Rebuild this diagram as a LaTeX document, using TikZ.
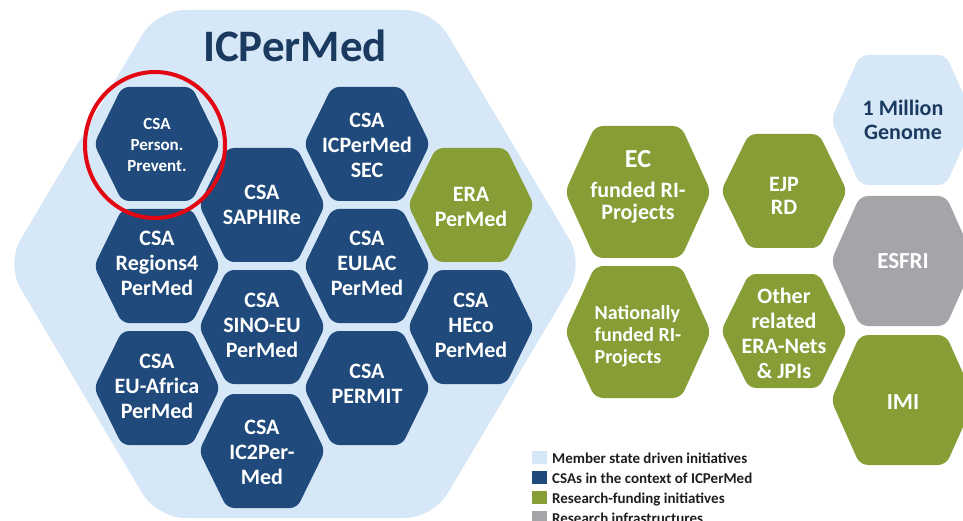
\documentclass[tikz,border=0pt]{standalone}
\usepackage{fontspec}
\setmainfont{Carlito}
\definecolor{lblue}{HTML}{D6E7F7}
\definecolor{navy}{HTML}{1F4A7B}
\definecolor{olive}{HTML}{879E37}
\definecolor{greyc}{HTML}{A3A5A8}
\definecolor{titlec}{HTML}{1A3A60}
\definecolor{redc}{HTML}{E30613}
\definecolor{legtext}{HTML}{1E1E1E}
% #1 fill options, #2 x, #3 y, #4 half width, #5 half top edge, #6 half height
\newcommand\hexfill[6]{%
  \fill[#1] ({#2-#4},#3) -- ({#2-#5},{#3-#6}) -- ({#2+#5},{#3-#6}) --
    ({#2+#4},#3) -- ({#2+#5},{#3+#6}) -- ({#2-#5},{#3+#6}) -- cycle;}
\tikzset{
  hextext/.style={text=white, align=center, inner sep=0pt,
    font=\fontsize{22}{25}\selectfont\bfseries},
  legbox/.style={minimum width=15pt, minimum height=13pt, inner sep=0pt, anchor=north west},
  legtxt/.style={anchor=base west, inner sep=0pt, text=legtext,
    font=\fontsize{15}{18}\selectfont\bfseries}
}
\begin{document}
\begin{tikzpicture}[x=1pt,y=-1pt]
\useasboundingbox (0,0) rectangle (963,521);
\clip (0,0) rectangle (963,521);
% big hexagon
\fill[lblue, rounded corners=28pt] (6,264) -- (157,10) -- (433,10) -- (584,264) -- (433,518) -- (157,518) -- cycle;
\node[anchor=base, inner sep=0pt, text=titlec, font=\fontsize{45}{50}\selectfont\bfseries] (title) at (295,62) {ICPerMed};

% small hexagons (w=63, t=35, h=57)
\hexfill{navy,rounded corners=7pt}{157}{144}{63}{35}{57}
\node[hextext, font=\fontsize{17}{21}\selectfont\bfseries] (person) at (157,145) {CSA\\Person.\\Prevent.};
\hexfill{navy,rounded corners=7pt}{157}{266}{63}{35}{57}
\node[hextext] (regions) at (157,263) {CSA\\Regions4\\PerMed};
\hexfill{navy,rounded corners=7pt}{157}{388}{63}{35}{57}
\node[hextext] (euafrica) at (157,386) {CSA\\EU-Africa\\PerMed};
\hexfill{navy,rounded corners=7pt}{262}{205}{63}{35}{57}
\node[hextext] (saphire) at (262,205) {CSA\\SAPHIRe};
\hexfill{navy,rounded corners=7pt}{262}{327}{63}{35}{57}
\node[hextext] (sinoeu) at (262,325) {CSA\\SINO-EU\\PerMed};
\hexfill{navy,rounded corners=7pt}{262}{451}{63}{35}{57}
\node[hextext] (ictwo) at (262,452) {CSA\\IC2Per-\\Med};
\hexfill{navy,rounded corners=7pt}{367}{144}{63}{35}{57}
\node[hextext] (sec) at (367,145) {CSA\\ICPerMed\\SEC};
\hexfill{navy,rounded corners=7pt}{367}{266}{63}{35}{57}
\node[hextext] (eulac) at (367,263) {CSA\\EULAC\\PerMed};
\hexfill{navy,rounded corners=7pt}{367}{388}{63}{35}{57}
\node[hextext] (permit) at (367,384) {CSA\\PERMIT};
\hexfill{olive,rounded corners=7pt}{471}{205}{63}{35}{57}
\node[hextext] (erapermed) at (471,207) {ERA\\PerMed};
\hexfill{navy,rounded corners=7pt}{471}{327}{63}{35}{57}
\node[hextext] (heco) at (471,325) {CSA\\HEco\\PerMed};

% red circle
\draw[redc, line width=4pt] (155,145) ellipse [x radius=70, y radius=73];

% right side
\hexfill{olive,rounded corners=8pt}{638}{192}{73}{43}{66}
\node[hextext, font=\fontsize{22}{22}\selectfont\bfseries] (ec) at (638,187) {{\fontsize{26}{26}\selectfont EC}\\[8pt]funded RI-\\Projects};
\hexfill{olive,rounded corners=8pt}{638}{332}{73}{43}{66}
\node[hextext, align=left, font=\fontsize{20}{22}\selectfont\bfseries] (national) at (638,336) {Nationally\\funded RI-\\Projects};
\hexfill{olive,rounded corners=7pt}{784}{191}{63}{35}{57}
\node[hextext, font=\fontsize{22}{23}\selectfont\bfseries] (ejp) at (784,196) {EJP\\RD};
\hexfill{olive,rounded corners=7pt}{784}{331}{63}{35}{57}
\node[hextext, font=\fontsize{22}{25}\selectfont\bfseries] (other) at (784,333) {Other\\related\\ERA-Nets\\\& JPIs};
\hexfill{lblue,rounded corners=8pt}{903}{120}{72}{43}{65}
\node[hextext, text=titlec, font=\fontsize{22}{24}\selectfont\bfseries] (million) at (903,120) {1 Million\\Genome};
\hexfill{greyc,rounded corners=8pt}{903}{261}{72}{43}{65}
\node[hextext, font=\fontsize{23}{25}\selectfont\bfseries] (esfri) at (903,261) {ESFRI};
\hexfill{olive,rounded corners=8pt}{903}{400}{72}{43}{65}
\node[hextext, font=\fontsize{23}{25}\selectfont\bfseries] (imi) at (903,402) {IMI};

% legend
\node[legbox, fill=lblue] (lb1) at (532,451) {};
\node[legtxt] (lt1) at (552,463) {Member state driven initiatives};
\node[legbox, fill=navy] (lb2) at (532,471) {};
\node[legtxt] (lt2) at (552,483) {CSAs in the context of ICPerMed};
\node[legbox, fill=olive] (lb3) at (532,491) {};
\node[legtxt] (lt3) at (552,503) {Research-funding initiatives};
\node[legbox, fill=greyc] (lb4) at (532,511) {};
\node[legtxt] (lt4) at (552,523) {Research infrastructures};
\end{tikzpicture}
\end{document}
